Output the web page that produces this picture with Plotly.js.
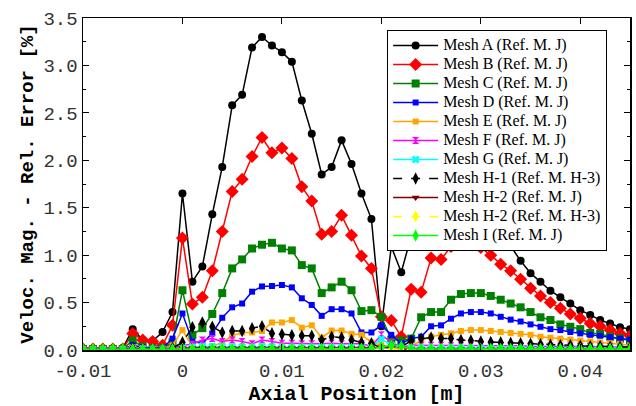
<!DOCTYPE html>
<html>
<head>
<meta charset="utf-8">
<script src="https://cdn.plot.ly/plotly-3.0.1.min.js"></script>
<style>
  html, body { margin: 0; padding: 0; background: #ffffff; }
  #chart { width: 636px; height: 406px; }
</style>
</head>
<body>
<div id="chart"></div>
<script>
// Axial stations [m], one every millimetre from -0.010 to 0.045
const axialPos = [
  -0.010, -0.009, -0.008, -0.007, -0.006, -0.005, -0.004, -0.003, -0.002, -0.001,
   0.000,  0.001,  0.002,  0.003,  0.004,  0.005,  0.006,  0.007,  0.008,  0.009,
   0.010,  0.011,  0.012,  0.013,  0.014,  0.015,  0.016,  0.017,  0.018,  0.019,
   0.020,  0.021,  0.022,  0.023,  0.024,  0.025,  0.026,  0.027,  0.028,  0.029,
   0.030,  0.031,  0.032,  0.033,  0.034,  0.035,  0.036,  0.037,  0.038,  0.039,
   0.040,  0.041,  0.042,  0.043,  0.044,  0.045
];

// Velocity magnitude relative error [%] per mesh
const meshA = [
  0.01, 0.01, 0.01, 0.01, 0.02, 0.22, 0.105, 0.095, 0.19, 0.40,
  1.65, 0.72, 0.88, 1.43, 1.93, 2.58, 2.69, 3.19, 3.30, 3.21,
  3.14, 3.04, 2.63, 2.28, 1.85, 1.93, 2.21, 1.96, 1.65, 1.38,
  0.25, 1.09, 0.82, 1.20, 1.32, 1.45, 1.52, 1.57, 1.60, 1.57,
  1.50, 1.40, 1.25, 1.09, 0.94, 0.81, 0.72, 0.625, 0.555, 0.49,
  0.42, 0.37, 0.315, 0.28, 0.24, 0.22
];
const meshB = [
  0.01, 0.01, 0.01, 0.01, 0.01, 0.175, 0.105, 0.09, 0.05, 0.26,
  1.18, 0.485, 0.555, 0.835, 1.25, 1.67, 1.80, 2.04, 2.24, 2.08,
  2.13, 2.02, 1.72, 1.57, 1.22, 1.25, 1.42, 1.21, 0.99, 0.86,
  0.35, 0.31, 0.14, 0.64, 0.61, 0.97, 0.955, 1.09, 1.13, 1.12,
  1.08, 1.00, 0.905, 0.835, 0.745, 0.65, 0.57, 0.50, 0.44, 0.38,
  0.335, 0.28, 0.25, 0.21, 0.175, 0.15
];
const meshC = [
  0.01, 0.01, 0.01, 0.01, 0.01, 0.10, 0.035, 0.02, 0.02, 0.08,
  0.63, 0.16, 0.23, 0.38, 0.60, 0.86, 0.955, 1.07, 1.11, 1.13,
  1.07, 1.05, 0.895, 0.86, 0.60, 0.66, 0.72, 0.63, 0.41, 0.42,
  0.35, 0.11, 0.10, 0.12, 0.345, 0.40, 0.40, 0.53, 0.59, 0.60,
  0.60, 0.57, 0.53, 0.49, 0.45, 0.40, 0.345, 0.316, 0.27, 0.245,
  0.22, 0.18, 0.17, 0.14, 0.12, 0.10
];
const meshD = [
  0.01, 0.01, 0.01, 0.01, 0.01, 0.05, 0.03, 0.02, 0.02, 0.12,
  0.385, 0.09, 0.07, 0.175, 0.34, 0.45, 0.49, 0.615, 0.67, 0.675,
  0.685, 0.66, 0.545, 0.475, 0.36, 0.43, 0.43, 0.385, 0.185, 0.185,
  0.26, 0.16, 0.07, 0.12, 0.14, 0.25, 0.26, 0.33, 0.385, 0.40,
  0.40, 0.385, 0.35, 0.32, 0.30, 0.27, 0.245, 0.22, 0.21, 0.19,
  0.175, 0.16, 0.15, 0.135, 0.12, 0.11
];
const meshE = [
  0.01, 0.01, 0.01, 0.01, 0.01, 0.03, 0.02, 0.01, 0.01, 0.05,
  0.21, 0.03, 0.02, 0.04, 0.08, 0.15, 0.185, 0.185, 0.20, 0.29,
  0.29, 0.315, 0.235, 0.26, 0.13, 0.205, 0.205, 0.17, 0.16, 0.08,
  0.05, 0.03, 0.02, 0.04, 0.10, 0.14, 0.16, 0.175, 0.20, 0.21,
  0.21, 0.20, 0.19, 0.18, 0.17, 0.16, 0.14, 0.13, 0.12, 0.11,
  0.10, 0.09, 0.08, 0.07, 0.065, 0.05
];
const meshF = [
  0.005, 0.005, 0.005, 0.005, 0.005, 0.02, 0.01, 0.01, 0.01, 0.02,
  0.05, 0.06, 0.105, 0.12, 0.09, 0.105, 0.09, 0.065, 0.105, 0.09,
  0.07, 0.07, 0.065, 0.065, 0.065, 0.07, 0.065, 0.065, 0.065, 0.04,
  0.16, 0.08, 0.03, 0.05, 0.05, 0.05, 0.05, 0.045, 0.045, 0.045,
  0.045, 0.045, 0.045, 0.045, 0.045, 0.04, 0.04, 0.04, 0.04, 0.04,
  0.035, 0.035, 0.035, 0.035, 0.03, 0.03
];
const meshG = [
  0.005, 0.005, 0.005, 0.005, 0.005, 0.01, 0.01, 0.005, 0.005, 0.01,
  0.03, 0.03, 0.04, 0.04, 0.04, 0.035, 0.035, 0.03, 0.04, 0.035,
  0.03, 0.03, 0.03, 0.03, 0.03, 0.03, 0.03, 0.03, 0.03, 0.03,
  0.12, 0.05, 0.02, 0.02, 0.02, 0.02, 0.02, 0.02, 0.02, 0.02,
  0.02, 0.02, 0.02, 0.02, 0.02, 0.02, 0.02, 0.02, 0.02, 0.02,
  0.02, 0.02, 0.02, 0.02, 0.02, 0.02
];
const meshH1 = [
  0.005, 0.005, 0.005, 0.005, 0.005, 0.02, 0.01, 0.01, 0.01, 0.02,
  0.08, 0.24, 0.29, 0.245, 0.185, 0.20, 0.20, 0.23, 0.25, 0.175,
  0.165, 0.155, 0.15, 0.15, 0.105, 0.14, 0.13, 0.105, 0.08, 0.07,
  0.02, 0.05, 0.03, 0.10, 0.12, 0.13, 0.12, 0.12, 0.105, 0.10,
  0.09, 0.085, 0.08, 0.075, 0.07, 0.065, 0.06, 0.055, 0.05, 0.05,
  0.045, 0.04, 0.04, 0.035, 0.035, 0.03
];
const meshH2 = [
  0.005, 0.005, 0.005, 0.005, 0.005, 0.01, 0.01, 0.01, 0.01, 0.01,
  0.02, 0.02, 0.02, 0.02, 0.02, 0.02, 0.02, 0.02, 0.02, 0.02,
  0.02, 0.02, 0.02, 0.02, 0.02, 0.02, 0.02, 0.02, 0.02, 0.02,
  0.03, 0.02, 0.01, 0.01, 0.01, 0.01, 0.01, 0.01, 0.01, 0.01,
  0.01, 0.01, 0.01, 0.01, 0.01, 0.01, 0.01, 0.01, 0.01, 0.01,
  0.01, 0.01, 0.01, 0.01, 0.01, 0.01
];
const meshH2ref = [
  0.005, 0.005, 0.005, 0.005, 0.005, 0.005, 0.005, 0.005, 0.005, 0.005,
  0.01, 0.01, 0.01, 0.01, 0.01, 0.01, 0.01, 0.01, 0.01, 0.01,
  0.01, 0.01, 0.01, 0.01, 0.01, 0.01, 0.01, 0.01, 0.01, 0.01,
  0.02, 0.01, 0.01, 0.005, 0.005, 0.005, 0.005, 0.005, 0.005, 0.005,
  0.005, 0.005, 0.005, 0.005, 0.005, 0.005, 0.005, 0.005, 0.005, 0.005,
  0.005, 0.005, 0.005, 0.005, 0.005, 0.005
];
const meshI = [
  0.005, 0.005, 0.005, 0.005, 0.005, 0.005, 0.005, 0.005, 0.005, 0.005,
  0.01, 0.01, 0.01, 0.01, 0.01, 0.01, 0.01, 0.01, 0.01, 0.01,
  0.01, 0.01, 0.01, 0.01, 0.01, 0.01, 0.01, 0.01, 0.01, 0.01,
  0.03, 0.05, 0.04, 0.01, 0.01, 0.01, 0.01, 0.01, 0.01, 0.01,
  0.01, 0.01, 0.01, 0.01, 0.01, 0.01, 0.01, 0.01, 0.01, 0.01,
  0.01, 0.01, 0.01, 0.01, 0.01, 0.01
];

const seriesNames = [
  'Mesh A (Ref. M. J)', 'Mesh B (Ref. M. J)', 'Mesh C (Ref. M. J)',
  'Mesh D (Ref. M. J)', 'Mesh E (Ref. M. J)', 'Mesh F (Ref. M. J)',
  'Mesh G (Ref. M. J)', 'Mesh H-1 (Ref. M. H-3)', 'Mesh H-2 (Ref. M. J)',
  'Mesh H-2 (Ref. M. H-3)', 'Mesh I (Ref. M. J)'
];

// Drawing style per series: colour, marker symbol, marker size, dash
const styles = [
  { values: meshA,     color: '#000000', symbol: 'circle',        size: 8,  dash: 'solid' },
  { values: meshB,     color: '#ff0000', symbol: 'diamond',       size: 10, dash: 'solid' },
  { values: meshC,     color: '#008000', symbol: 'square',        size: 8,  dash: 'solid' },
  { values: meshD,     color: '#0000ff', symbol: 'square',        size: 6,  dash: 'solid' },
  { values: meshE,     color: '#ffa500', symbol: 'square',        size: 6,  dash: 'solid' },
  { values: meshF,     color: '#ff00ff', symbol: 'hourglass',     size: 7,  dash: 'solid' },
  { values: meshG,     color: '#00ffff', symbol: 'x',             size: 7,  dash: 'solid' },
  { values: meshH1,    color: '#000000', symbol: 'diamond-tall',  size: 9,  dash: 'dash'  },
  { values: meshH2,    color: '#800000', symbol: 'triangle-down', size: 7,  dash: 'solid' },
  { values: meshH2ref, color: '#ffff00', symbol: 'diamond-tall',  size: 9,  dash: 'dash'  },
  { values: meshI,     color: '#00ff00', symbol: 'diamond-tall',  size: 9,  dash: 'solid' }
];

// Legend labels are set in a larger span so entries stay closely packed
const traces = styles.map((s, i) => ({
  type: 'scatter',
  mode: 'lines+markers',
  name: '<span style="font-size:16px">' + seriesNames[i] + '</span>',
  x: axialPos,
  y: s.values,
  line: { color: s.color, width: 1.5, dash: s.dash },
  marker: { color: s.color, symbol: s.symbol, size: s.size, line: { width: 0 } },
  cliponaxis: true
}));

const monoFont = 'Liberation Mono, Courier New, monospace';

const layout = {
  width: 636,
  height: 406,
  margin: { l: 83, r: 6, t: 18, b: 56 },
  paper_bgcolor: '#ffffff',
  plot_bgcolor: '#ffffff',
  showlegend: true,
  legend: {
    x: 0.556, y: 0.964, xanchor: 'left', yanchor: 'top',
    bgcolor: '#ffffff', bordercolor: '#000000', borderwidth: 1,
    font: { family: 'Liberation Serif, Times New Roman, serif', size: 12, color: '#000000' },
    itemwidth: 45,
    tracegroupgap: 0
  },
  xaxis: {
    range: [-0.01, 0.045],
    tickvals: [-0.01, 0, 0.01, 0.02, 0.03, 0.04],
    ticktext: ['-0.01', '0', '0.01', '0.02', '0.03', '0.04'],
    ticks: 'inside', ticklen: 6, tickwidth: 1, tickcolor: '#000000',
    ticklabelstandoff: 3,
    showline: true, linecolor: '#000000', linewidth: 1.5, mirror: 'allticks',
    showgrid: false, zeroline: false,
    tickfont: { family: monoFont, size: 19, color: '#333333' },
    title: { text: 'Axial Position [m]', font: { family: monoFont, size: 20, color: '#000000', weight: 'bold' }, standoff: 6 }
  },
  yaxis: {
    range: [0, 3.5],
    dtick: 0.5, tickformat: '.1f',
    ticks: 'inside', ticklen: 6, tickwidth: 1, tickcolor: '#000000',
    minor: { ticks: 'inside', ticklen: 3, dtick: 0.25, tickcolor: '#000000' },
    showline: true, linecolor: '#000000', linewidth: 1.5, mirror: 'allticks',
    showgrid: false, zeroline: false,
    tickfont: { family: monoFont, size: 19, color: '#333333' },
    title: { text: 'Veloc. Mag. - Rel. Error [%]', font: { family: monoFont, size: 19, color: '#000000', weight: 'bold' }, standoff: 5 }
  }
};

Plotly.newPlot('chart', traces, layout, { displayModeBar: false, staticPlot: true });
</script>
</body>
</html>
